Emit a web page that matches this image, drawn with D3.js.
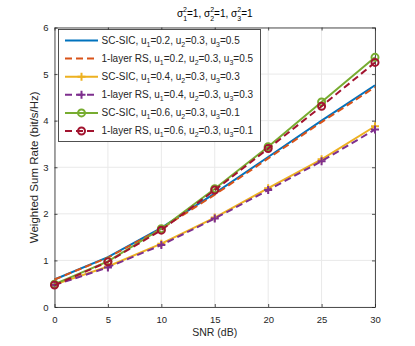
<!DOCTYPE html>
<html>
<head>
<meta charset="utf-8">
<script src="https://cdn.jsdelivr.net/npm/d3@7"></script>
<style>
  body { margin: 0; background: #fff; }
  svg { display: block; font-family: "Liberation Sans", Arial, Helvetica, sans-serif; }
</style>
</head>
<body>
<svg id="chart" width="415" height="346"></svg>
<script>
// data
var snr = [0, 5, 10, 15, 20, 25, 30];
var sc02 = [0.59, 1.07, 1.70, 2.44, 3.22, 4.00, 4.76];
var rs02 = [0.59, 1.06, 1.68, 2.41, 3.19, 3.97, 4.72];
var sc04 = [0.48, 0.87, 1.36, 1.92, 2.55, 3.17, 3.88];
var rs04 = [0.47, 0.85, 1.33, 1.90, 2.51, 3.13, 3.81];
var sc06 = [0.49, 0.98, 1.68, 2.54, 3.44, 4.40, 5.36];
var rs06 = [0.47, 0.97, 1.65, 2.51, 3.40, 4.31, 5.25];
var xTicks = [0, 5, 10, 15, 20, 25, 30];
var yTicks = [0, 1, 2, 3, 4, 5, 6];

// u1 / u3 for each legend entry (u2 is always 0.3)
var u1 = ["0.2", "0.2", "0.4", "0.4", "0.6", "0.6"];
var u3 = ["0.5", "0.5", "0.3", "0.3", "0.1", "0.1"];
var names = ["SC-SIC", "1-layer RS", "SC-SIC", "1-layer RS", "SC-SIC", "1-layer RS"];

var series = [
  { y: sc02, color: "#0072BD", dash: null, marker: null },
  { y: rs02, color: "#D95319", dash: "7,4", marker: null },
  { y: sc04, color: "#EDB120", dash: null, marker: "plus" },
  { y: rs04, color: "#7E2F8E", dash: "7,4", marker: "plus" },
  { y: sc06, color: "#77AC30", dash: null, marker: "circle" },
  { y: rs06, color: "#A2142F", dash: "7,4", marker: "circle" }
];

var svg = d3.select("#chart");
var pLeft = 54.5, pRight = 375, pTop = 27.5, pBottom = 307;

var x = d3.scaleLinear().domain([0, 30]).range([pLeft, pRight]);
var y = d3.scaleLinear().domain([0, 6]).range([pBottom, pTop]);

// grid
var grid = svg.append("g");
grid.selectAll(".gx").data(xTicks).enter().append("line")
  .attr("x1", d => x(d)).attr("x2", d => x(d))
  .attr("y1", pTop).attr("y2", pBottom)
  .attr("stroke", "#e9e9e9").attr("stroke-width", 1);
grid.selectAll(".gy").data(yTicks).enter().append("line")
  .attr("x1", pLeft).attr("x2", pRight)
  .attr("y1", d => y(d)).attr("y2", d => y(d))
  .attr("stroke", "#e9e9e9").attr("stroke-width", 1);

// axes with inward ticks, box on
var axCol = "#262626";
var xb = svg.append("g").attr("transform", "translate(0," + pBottom + ")")
  .call(d3.axisBottom(x).tickValues(xTicks).tickSizeInner(-3).tickSizeOuter(0).tickPadding(9));
var xt = svg.append("g").attr("transform", "translate(0," + pTop + ")")
  .call(d3.axisTop(x).tickValues(xTicks).tickSizeInner(-3).tickSizeOuter(0).tickFormat(""));
var yl = svg.append("g").attr("transform", "translate(" + pLeft + ",0)")
  .call(d3.axisLeft(y).tickValues(yTicks).tickFormat(d3.format("d"))
    .tickSizeInner(-3).tickSizeOuter(0).tickPadding(6));
var yr = svg.append("g").attr("transform", "translate(" + pRight + ",0)")
  .call(d3.axisRight(y).tickValues(yTicks).tickSizeInner(-3).tickSizeOuter(0).tickFormat(""));
[xb, xt, yl, yr].forEach(function (g) {
  g.selectAll("path").attr("stroke", axCol).attr("stroke-width", 0.8);
  g.selectAll("line").attr("stroke", axCol).attr("stroke-width", 0.8);
  g.selectAll("text").attr("fill", axCol).style("font-size", "9.5px")
    .style("font-family", "'Liberation Sans', Arial, sans-serif");
});

// lines
var line = d3.line().x((d, i) => x(snr[i])).y(d => y(d));

function drawMarker(g, kind, cx, cy, color) {
  if (kind === "plus") {
    g.append("path")
      .attr("d", "M" + (cx - 4) + "," + cy + "H" + (cx + 4) + "M" + cx + "," + (cy - 4) + "V" + (cy + 4))
      .attr("stroke", color).attr("stroke-width", 2).attr("fill", "none");
  } else if (kind === "circle") {
    g.append("circle").attr("cx", cx).attr("cy", cy).attr("r", 3.5)
      .attr("stroke", color).attr("stroke-width", 2).attr("fill", "none");
  }
}

series.forEach(function (s) {
  var g = svg.append("g");
  g.append("path").datum(s.y).attr("d", line)
    .attr("fill", "none").attr("stroke", s.color).attr("stroke-width", 2)
    .attr("stroke-dasharray", s.dash);
  if (s.marker) {
    s.y.forEach(function (v, i) { drawMarker(g, s.marker, x(snr[i]), y(v), s.color); });
  }
});

// legend
var leg = svg.append("g");
leg.append("rect").attr("x", 58.5).attr("y", 29.5).attr("width", 202).attr("height", 112)
  .attr("fill", "#fff").attr("stroke", axCol).attr("stroke-width", 0.8);

series.forEach(function (s, i) {
  var cy = 40.5 + i * 18.1;
  leg.append("line").attr("x1", 65).attr("x2", 98).attr("y1", cy).attr("y2", cy)
    .attr("stroke", s.color).attr("stroke-width", 2).attr("stroke-dasharray", s.dash);
  if (s.marker) drawMarker(leg, s.marker, 81.5, cy, s.color);
  var t = leg.append("text").attr("x", 101.5).attr("y", cy + 3)
    .attr("fill", axCol).style("font-size", "10px");
  t.append("tspan").text(names[i] + ", u");
  t.append("tspan").attr("dy", 3).style("font-size", "7px").text("1");
  t.append("tspan").attr("dy", -3).text("=" + u1[i] + ", u");
  t.append("tspan").attr("dy", 3).style("font-size", "7px").text("2");
  t.append("tspan").attr("dy", -3).text("=0.3, u");
  t.append("tspan").attr("dy", 3).style("font-size", "7px").text("3");
  t.append("tspan").attr("dy", -3).text("=" + u3[i]);
});

// axis labels
svg.append("text").attr("x", (pLeft + pRight) / 2).attr("y", 336)
  .attr("text-anchor", "middle").attr("fill", axCol).style("font-size", "10.5px")
  .text("SNR (dB)");
svg.append("text").attr("transform", "translate(37.5," + ((pTop + pBottom) / 2) + ") rotate(-90)")
  .attr("text-anchor", "middle").attr("fill", axCol).style("font-size", "11.5px")
  .text("Weighted Sum Rate (bit/s/Hz)");

// title: sigma_k^2 = 1 with stacked sub/superscripts
var title = svg.append("text").attr("x", (pLeft + pRight) / 2).attr("y", 17)
  .attr("text-anchor", "middle").attr("fill", "#000").style("font-size", "10px");
[1, 2, 3].forEach(function (k, j) {
  title.append("tspan").text((j ? ", " : "") + "σ");
  title.append("tspan").attr("dy", -5).style("font-size", "7px").text("2");
  title.append("tspan").attr("dx", -3.9).attr("dy", 9).style("font-size", "7px").text(String(k));
  title.append("tspan").attr("dy", -4).text("=1");
});
</script>
</body>
</html>
